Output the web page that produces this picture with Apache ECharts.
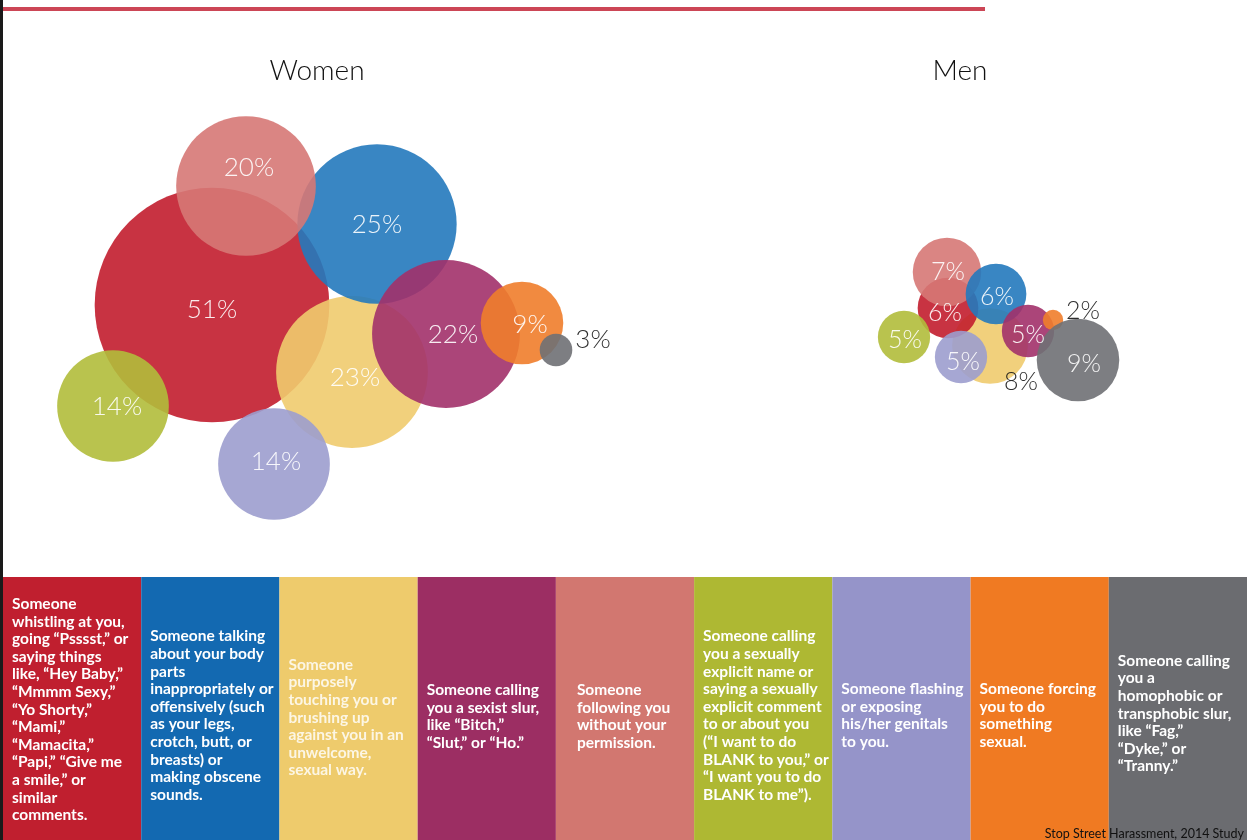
<!DOCTYPE html>
<html>
<head>
<meta charset="utf-8">
<title>Street harassment by gender</title>
<script src="https://cdn.jsdelivr.net/npm/echarts@6/dist/echarts.min.js"></script>
<style>
  html, body { margin: 0; padding: 0; background: #fff; }
  #chart { width: 1247px; height: 840px; }
</style>
</head>
<body>
<div id="chart"></div>
<script>
// ---- data ----
const categories = [
  "Someone\nwhistling at you,\ngoing “Psssst,” or\nsaying things\nlike, “Hey Baby,”\n“Mmmm Sexy,”\n“Yo Shorty,”\n“Mami,”\n“Mamacita,”\n“Papi,” “Give me\na smile,” or\nsimilar\ncomments.",
  "Someone talking\nabout your body\nparts\ninappropriately or\noffensively (such\nas your legs,\ncrotch, butt, or\nbreasts) or\nmaking obscene\nsounds.",
  "Someone\npurposely\ntouching you or\nbrushing up\nagainst you in an\nunwelcome,\nsexual way.",
  "Someone calling\nyou a sexist slur,\nlike “Bitch,”\n“Slut,” or “Ho.”",
  "Someone\nfollowing you\nwithout your\npermission.",
  "Someone calling\nyou a sexually\nexplicit name or\nsaying a sexually\nexplicit comment\nto or about you\n(“I want to do\nBLANK to you,” or\n“I want you to do\nBLANK to me”).",
  "Someone flashing\nor exposing\nhis/her genitals\nto you.",
  "Someone forcing\nyou to do\nsomething\nsexual.",
  "Someone calling\nyou a\nhomophobic or\ntransphobic slur,\nlike “Fag,”\n“Dyke,” or\n“Tranny.”"
];
const womenValues = [51, 25, 23, 22, 20, 14, 14, 9, 3];
const menValues = [6, 6, 8, 5, 7, 5, 5, 2, 9];
const groupNames = ["Women", "Men"];
const sourceText = "Stop Street Harassment, 2014 Study";

// ---- layout & style (not data) ----
const bubbleColors = ["#c21d2e", "#2379bc", "#efcb6e", "#a2316a", "#d67876", "#b1bd3b", "#9c9dce", "#f07d2b", "#6f7074"];
const panelColors  = ["#c01f2f", "#1369b1", "#eecb6c", "#9c2e63", "#d27770", "#aeb833", "#9594c9", "#f07a22", "#6b6c70"];
// bubble centres on a hidden 10px-unit grid (hand packed like the original)
const womenPos = [[21.2, 30.5], [37.7, 22.4], [35.2, 37.2], [44.6, 33.4], [24.6, 18.6], [11.3, 40.6], [27.4, 46.4], [52.2, 32.3], [55.6, 35.0]];
const menPos   = [[94.8, 30.8], [99.6, 29.4], [99.0, 34.6], [102.8, 33.1], [94.7, 27.2], [90.4, 33.7], [96.1, 35.7], [105.3, 32.0], [107.8, 36.0]];
const womenOrder = [0, 2, 1, 4, 3, 7, 8, 5, 6];
const menOrder = [2, 0, 4, 1, 5, 6, 3, 7, 8];
const womenLabelOffset = [[0, 5], [0, 1], [3, 6], [7, 1], [3, -18], [4, 1], [2, -2], [8, 2], [0, 0]];
const menLabelOffset = [[-3, 5], [1, 3], [0, 0], [0, 4], [1, 0], [1, 3], [2, 5], [0, 0], [6, 4]];
const panelIndent = [0, 0, 0, 0, 12, 0, 0, 0, 0];
const panelShift = [1, 7, 9, 8, 8, 7, 7, 7, 5];

// circle diameter from the percentage (small values shrunk like the original)
function bubbleSize(v) {
  return 33 * Math.sqrt(v) - 30 * Math.exp(-v / 15);
}

function buildBubbles(values, pos, order, offsets, specials) {
  return order.map(function (i) {
    const item = {
      value: [pos[i][0], pos[i][1], values[i]],
      itemStyle: { color: bubbleColors[i] },
      label: { offset: offsets[i] }
    };
    if (specials[i]) item.label = Object.assign(item.label, specials[i]);
    return item;
  });
}

const darkLabel = { color: "#151515" };
const womenData = buildBubbles(womenValues, womenPos, womenOrder, womenLabelOffset, {
  8: Object.assign({ position: "right", distance: 3, offset: [0, -10] }, darkLabel)
});
const menData = buildBubbles(menValues, menPos, menOrder, menLabelOffset, {
  2: Object.assign({ offset: [31, 36] }, darkLabel),
  7: Object.assign({ offset: [30, -9] }, darkLabel)
});

const bubbleLabel = {
  show: true,
  position: "inside",
  color: "#fff",
  fontFamily: "Lato",
  fontWeight: 300,
  formatter: function (p) { return p.value[2] + "%"; }
};

const myChart = echarts.init(document.getElementById("chart"), null, { renderer: "canvas" });
const option = {
  backgroundColor: "#fff",
  animation: false,
  title: [
    { text: groupNames[0], left: 312, top: 52, textAlign: "center",
      textStyle: { fontFamily: "Lato", fontWeight: 300, fontSize: 28, color: "#111" } },
    { text: groupNames[1], left: 955, top: 52, textAlign: "center",
      textStyle: { fontFamily: "Lato", fontWeight: 300, fontSize: 28, color: "#111" } },
    { text: sourceText, right: 3, bottom: 0, padding: 0,
      textStyle: { fontFamily: "Lato", fontWeight: "normal", fontSize: 12.5, color: "#111" } }
  ],
  grid: [
    { left: 0, top: 0, width: 1247, height: 577 },
    { left: 3, right: 0, top: 577, bottom: 0 }
  ],
  xAxis: [
    { type: "value", gridIndex: 0, min: 0, max: 124.7, show: false },
    { type: "category", gridIndex: 1, data: categories, show: false }
  ],
  yAxis: [
    { type: "value", gridIndex: 0, min: 0, max: 57.7, inverse: true, show: false },
    { type: "value", gridIndex: 1, min: 0, max: 1, show: false }
  ],
  series: [
    {
      name: groupNames[0],
      type: "scatter",
      xAxisIndex: 0, yAxisIndex: 0,
      data: womenData,
      symbolSize: function (val) { return bubbleSize(val[2]); },
      itemStyle: { opacity: 0.9 },
      label: Object.assign({ fontSize: 26 }, bubbleLabel),
      emphasis: { disabled: true },
      z: 3
    },
    {
      name: groupNames[1],
      type: "scatter",
      xAxisIndex: 0, yAxisIndex: 0,
      data: menData,
      symbolSize: function (val) { return bubbleSize(val[2]); },
      itemStyle: { opacity: 0.9 },
      label: Object.assign({ fontSize: 25 }, bubbleLabel),
      emphasis: { disabled: true },
      z: 3
    },
    {
      name: "legend panels",
      type: "bar",
      xAxisIndex: 1, yAxisIndex: 1,
      barCategoryGap: 0,
      data: categories.map(function (c, i) {
        return {
          value: 1,
          itemStyle: { color: panelColors[i] },
          label: {
            offset: [panelIndent[i], panelShift[i]],
            color: i === 2 ? "rgba(255,255,255,0.82)" : "#fff"
          }
        };
      }),
      label: {
        show: true,
        position: "insideLeft",
        distance: 9,
        fontFamily: "Lato",
        fontWeight: "bold",
        fontSize: 15.5,
        lineHeight: 17.6,
        align: "left",
        formatter: function (p) { return p.name; }
      },
      emphasis: { disabled: true },
      z: 1
    }
  ],
  graphic: [
    { type: "rect", shape: { x: 0, y: 0, width: 3, height: 840 }, style: { fill: "#1a1a1a" }, z: 10 },
    { type: "rect", shape: { x: 3, y: 7, width: 982, height: 4 }, style: { fill: "#cc4656" }, z: 10 }
  ]
};
myChart.setOption(option);
window.addEventListener("resize", function () {
  myChart.resize();
});
</script>
</body>
</html>
